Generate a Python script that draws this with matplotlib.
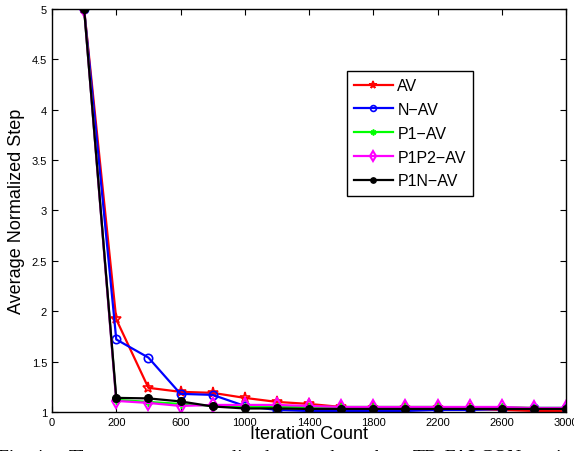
import matplotlib
matplotlib.use('Agg')
import matplotlib.pyplot as plt

plt.rcParams['font.family'] = ['Liberation Sans', 'DejaVu Sans']

# iteration counts shown at each point (plotted against index 1..16)
iters = [100, 200, 400, 600, 800, 1000, 1200, 1400, 1600, 1800, 2000, 2200, 2400, 2600, 2800, 3000]
tick_labels = ['0', '200', '600', '1000', '1400', '1800', '2200', '2600', '3000']

av = [5, 1.92, 1.24, 1.20, 1.19, 1.14, 1.10, 1.08, 1.05, 1.04, 1.04, 1.04, 1.03, 1.02, 1.01, 1.01]
n_av = [5, 1.72, 1.54, 1.18, 1.17, 1.06, 1.02, 1.01, 1.01, 1.01, 1.01, 1.02, 1.02, 1.03, 1.04, 1.04]
p1_av = [5, 1.12, 1.10, 1.08, 1.06, 1.05, 1.05, 1.05, 1.05, 1.05, 1.05, 1.05, 1.04, 1.05, 1.04, 1.04]
p1p2_av = [5, 1.11, 1.09, 1.06, 1.07, 1.07, 1.07, 1.06, 1.05, 1.05, 1.05, 1.05, 1.05, 1.05, 1.04, 1.04]
p1n_av = [5, 1.14, 1.135, 1.105, 1.055, 1.035, 1.035, 1.03, 1.03, 1.03, 1.03, 1.03, 1.03, 1.03, 1.03, 1.03]

idx = list(range(1, len(iters) + 1))

fig = plt.figure(figsize=(5.74, 4.52), dpi=100)
ax = fig.add_axes([0.0906, 0.0863, 0.8955, 0.8917])

lw = 1.6
ax.plot(idx, av, color='red', lw=lw, marker='*', ms=8, mfc='none', mew=1.2, label='AV')
ax.plot(idx, n_av, color='blue', lw=lw, marker='o', ms=6, mfc='none', mew=1.2, label='N\u2212AV')
ax.plot(idx, p1_av, color='#00ff00', lw=lw, marker=(6, 2, 0), ms=6, mew=1.2, label='P1\u2212AV')
ax.plot(idx, p1p2_av, color='magenta', lw=lw, marker='d', ms=7, mfc='none', mew=1.5, label='P1P2\u2212AV')
ax.plot(idx, p1n_av, color='black', lw=lw, marker='.', ms=11, label='P1N\u2212AV')

ax.set_xlim(0, 16)
ax.set_ylim(1, 5)
ax.set_xticks(range(0, 17, 2))
ax.set_xticklabels(tick_labels)
ax.set_yticks([1, 1.5, 2, 2.5, 3, 3.5, 4, 4.5, 5])
ax.set_yticklabels(['1', '1.5', '2', '2.5', '3', '3.5', '4', '4.5', '5'])
ax.tick_params(direction='in', top=True, right=True, labelsize=8, length=4, width=0.8)
for s in ax.spines.values():
    s.set_linewidth(1.0)

ax.set_xlabel('Iteration Count', fontsize=13, labelpad=-1)
ax.set_ylabel('Average Normalized Step', fontsize=13, labelpad=5)

leg = ax.legend(loc='upper left', bbox_to_anchor=(0.574, 0.846), fontsize=11.5,
                frameon=True, fancybox=False, edgecolor='black', framealpha=1,
                markerscale=0.7, handlelength=2.4, handletextpad=0.3,
                borderpad=0.45, labelspacing=0.55, borderaxespad=0)
leg.get_frame().set_linewidth(1.0)

# caption of the source figure, cut by the lower edge (justified, so words are spread)
cap_y = 0.004
cap = [('Fig. 4.', -2), ('The', 69), ('average', 114), ('normalized', 183),
       ('step', 269), ('taken', 317), ('by', 374), ('TD-FALCON', 413), ('to improve', 536)]
for word, px in cap:
    fig.text(px / 574, cap_y, word, family='Liberation Serif', fontsize=14,
             va='top', ha='left')

fig.savefig('out.png', dpi=100)
